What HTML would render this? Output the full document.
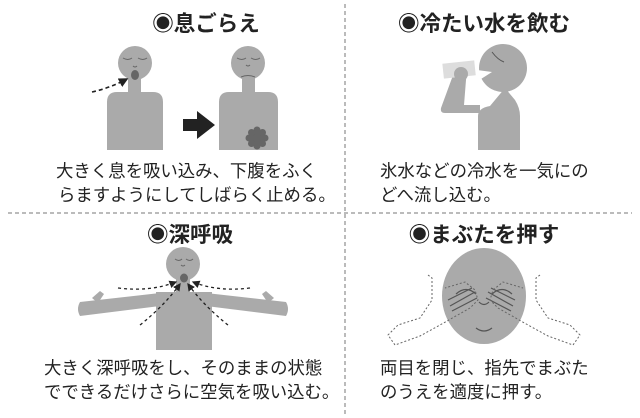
<!DOCTYPE html>
<html><head><meta charset="utf-8"><style>
html,body{margin:0;padding:0;background:#fff;}
svg{display:block}
text{font-family:"Liberation Sans","Noto Sans CJK JP",sans-serif;fill:#222}
.t{font-size:21.5px;font-weight:bold}
.b{font-size:17.4px}
</style></head><body>
<svg width="640" height="418" viewBox="0 0 640 418" xmlns="http://www.w3.org/2000/svg">
<defs><marker id="ah" markerWidth="6" markerHeight="6" refX="5" refY="3" orient="auto"><path d="M0,0 L6,3 L0,6z" fill="#222"/></marker></defs>
<line x1="345" y1="4" x2="345" y2="414" stroke="#777" stroke-dasharray="4,3"/>
<line x1="8" y1="213" x2="632" y2="213" stroke="#777" stroke-dasharray="4,3"/>
<text class="t" x="206" y="31" text-anchor="middle">◉息ごらえ</text>
<text class="t" x="484" y="31" text-anchor="middle">◉冷たい水を飲む</text>
<text class="t" x="190" y="242" text-anchor="middle">◉深呼吸</text>
<text class="t" x="484" y="242" text-anchor="middle">◉まぶたを押す</text>
<text class="b" x="56" y="177">大きく息を吸い込み、下腹をふく</text>
<text class="b" x="58" y="201">らますようにしてしばらく止める。</text>
<text class="b" x="380" y="177">氷水などの冷水を一気にの</text>
<text class="b" x="380" y="201">どへ流し込む。</text>
<text class="b" x="44" y="374">大きく深呼吸をし、そのままの状態</text>
<text class="b" x="44" y="398">でできるだけさらに空気を吸い込む。</text>
<text class="b" x="380" y="374">両目を閉じ、指先でまぶた</text>
<text class="b" x="380" y="398">のうえを適度に押す。</text>
<!-- person 1 -->
<g fill="#aaa">
<ellipse cx="135" cy="63" rx="17" ry="17"/>
<rect x="128" y="76" width="13" height="18"/>
<path d="M107,150 V102 Q107,92 117,92 H153 Q163,92 163,102 V150z"/>
<ellipse cx="248" cy="63" rx="17" ry="17"/>
<rect x="242" y="76" width="13" height="18"/>
<path d="M219,150 V102 Q219,92 229,92 H268 Q278,92 278,102 V150z"/>
</g>
<ellipse cx="135" cy="75" rx="4" ry="5" fill="#666"/>
<path d="M92,92 Q110,88 127,79" fill="none" stroke="#222" stroke-width="1.6" stroke-dasharray="4,3" marker-end="url(#ah)"/>
<path d="M183,119 H197 V111 L215,125 L197,139 V131 H183z" fill="#222"/>
<g fill="#666"><circle cx="257" cy="138" r="7"/>
<circle cx="257" cy="130" r="3.5"/><circle cx="257" cy="146" r="3.5"/><circle cx="249" cy="138" r="3.5"/><circle cx="265" cy="138" r="3.5"/>
<circle cx="251.5" cy="132.5" r="3.5"/><circle cx="262.5" cy="132.5" r="3.5"/><circle cx="251.5" cy="143.5" r="3.5"/><circle cx="262.5" cy="143.5" r="3.5"/></g>
<g fill="none" stroke="#666" stroke-width="1"><path d="M123,58 q5,3 9,0 M138,58 q5,3 9,0 M133,66 q2,2 4,0 M237,58 q5,3 9,0 M251,58 q5,3 9,0 M246,65 q2,2 4,0 M241,77 q7,-3 14,0"/></g>
<!-- drinking -->
<g fill="#aaa">
<circle cx="503" cy="68" r="24"/>
<path d="M478,150 V116 Q478,108 490,106 L505,88 L515,100 Q520,108 520,116 V150z"/>
<path d="M458,70 Q468,68 466,80 L464,105 H480 V113 H445 Q440,113 441,108 L452,78 Q452,72 458,70z"/>
</g>
<path d="M477,70 L492,72 L481,79z" fill="#fff"/>
<rect x="443" y="62" width="32" height="15" fill="#ddd" transform="rotate(-6 459 69)"/>
<circle cx="461" cy="74" r="7" fill="#aaa"/>
<path d="M492,52 q6,8 12,10" fill="none" stroke="#555"/>
<!-- deep breath -->
<g fill="#aaa">
<circle cx="183" cy="264" r="17"/>
<rect x="176" y="276" width="14" height="18"/>
<rect x="156" y="292" width="56" height="58"/>
<path d="M80,302 L160,293 V306 L80,316 Q76,309 80,302z"/>
<path d="M286,302 L206,293 V306 L286,316 Q290,309 286,302z"/>
<path d="M92,298 L100,291 L104,294 L98,303z"/>
<path d="M274,298 L266,291 L262,294 L268,303z"/>
</g>
<ellipse cx="184" cy="278" rx="4" ry="4.5" fill="#666"/>
<path d="M175,259 q4,3 7,0 M186,259 q4,3 7,0 M181,265 q2,2 4,0" fill="none" stroke="#666"/>
<g fill="none" stroke="#222" stroke-width="1.3" stroke-dasharray="3,3">
<path d="M118,288 Q150,292 176,282" marker-end="url(#ah)"/>
<path d="M250,288 Q218,292 193,282" marker-end="url(#ah)"/>
<path d="M140,325 Q165,305 180,284" marker-end="url(#ah)"/>
<path d="M228,325 Q203,305 188,284" marker-end="url(#ah)"/>
</g>
<!-- face -->
<ellipse cx="484" cy="296" rx="42" ry="48" fill="#aaa"/>
<g fill="none" stroke="#555" stroke-width="1.2">
<path d="M456,294 q10,-9 20,0 M492,294 q10,-9 20,0 M479,302 q5,5 10,0 M476,328 q8,6 16,0"/>
<path d="M448,300 L472,288 M450,306 L475,292 M452,311 L477,298 M515,300 L491,288 M513,306 L488,292 M511,311 L486,298"/>
</g>
<g fill="none" stroke="#666" stroke-width="1" stroke-dasharray="2,2">
<path d="M428,275 L432,278 L432,300 L420,318 L398,325 L388,335 L395,345 L420,336 L440,325 L470,308 L478,300 L475,290 L465,282 L445,288"/>
<path d="M540,275 L536,278 L536,300 L548,318 L570,325 L580,335 L573,345 L548,336 L528,325 L498,308 L490,300 L493,290 L503,282 L523,288"/>
</g>
</svg>
</body></html>
